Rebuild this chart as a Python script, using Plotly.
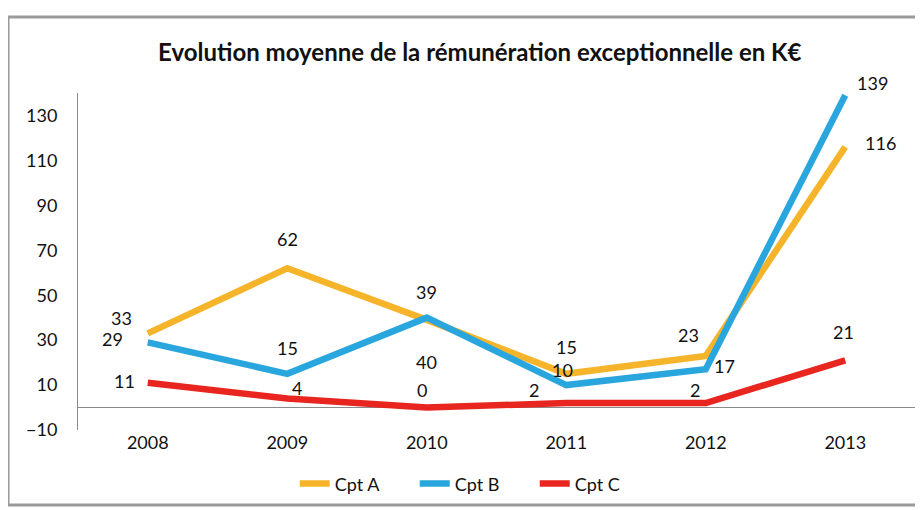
import plotly.graph_objects as go

years = ["2008", "2009", "2010", "2011", "2012", "2013"]
cpt_a = [33, 62, 39, 15, 23, 116]
cpt_b = [29, 15, 40, 10, 17, 139]
cpt_c = [11, 4, 0, 2, 2, 21]
series_names = ["Cpt A", "Cpt B", "Cpt C"]
y_ticks = [-10, 10, 30, 50, 70, 90, 110, 130]

colors = ["#F6B42B", "#2AA6DE", "#E8261F"]
# label offsets (pixels) per series/point: (xshift, yshift)
offsets = [
    [(-26, 15), (0, 29), (0, 28), (0, 27), (-17, 21), (35, 4)],
    [(-35, 3), (0, 26), (0, -44), (-4, 15), (19, 3), (27, 12)],
    [(-23, 2), (10, 11), (-5, 18), (-32, 13), (-11, 13), (-2, 28)],
]

FONT = "Lato, 'Open Sans', sans-serif"
TXT = "#111111"
fig = go.Figure()
annotations = []
for name, vals, col, offs in zip(series_names, [cpt_a, cpt_b, cpt_c], colors, offsets):
    fig.add_trace(go.Scatter(x=years, y=vals, name=name, mode="lines",
                             line=dict(color=col, width=6.5)))
    for i, (yv, (dx, dy)) in enumerate(zip(vals, offs)):
        annotations.append(dict(x=i, y=yv, xref="x", yref="y", text=str(yv),
                                showarrow=False, xshift=dx, yshift=dy,
                                font=dict(family=FONT, size=18, color=TXT)))

shapes = [dict(type="rect", xref="paper", yref="paper",
               x0=-0.0836, x1=1.006, y0=-0.2226, y1=1.2255,
               line=dict(color="#9a9a9a", width=3), fillcolor="rgba(0,0,0,0)")]

fig.update_layout(
    width=915, height=502,
    margin=dict(l=70, r=8, t=85, b=80),
    paper_bgcolor="white", plot_bgcolor="white",
    title=dict(text="<b>Evolution moyenne de la rémunération exceptionnelle en K€</b>",
               x=0.48, xanchor="center", xref="paper", y=0.912, yanchor="middle",
               font=dict(family=FONT, size=24, color=TXT)),
    xaxis=dict(type="category", showgrid=False, showline=False, ticks="",
               tickfont=dict(family=FONT, size=18, color=TXT),
               range=[-0.5, 5.5], fixedrange=True),
    yaxis=dict(range=[-10, 140], tickvals=y_ticks, showgrid=False,
               showline=True, linecolor="#8a8a8a", linewidth=1,
               zeroline=True, zerolinecolor="#8a8a8a", zerolinewidth=1,
               ticks="", ticklabelstandoff=16,
               tickfont=dict(family=FONT, size=18, color=TXT)),
    legend=dict(orientation="h", x=0.474, xanchor="center", y=-0.16, yanchor="middle",
                font=dict(family=FONT, size=18, color=TXT),
                entrywidth=75, entrywidthmode="pixels", bgcolor="rgba(0,0,0,0)"),
    annotations=annotations,
    shapes=shapes,
    showlegend=True,
)

fig.write_html("out.html")
